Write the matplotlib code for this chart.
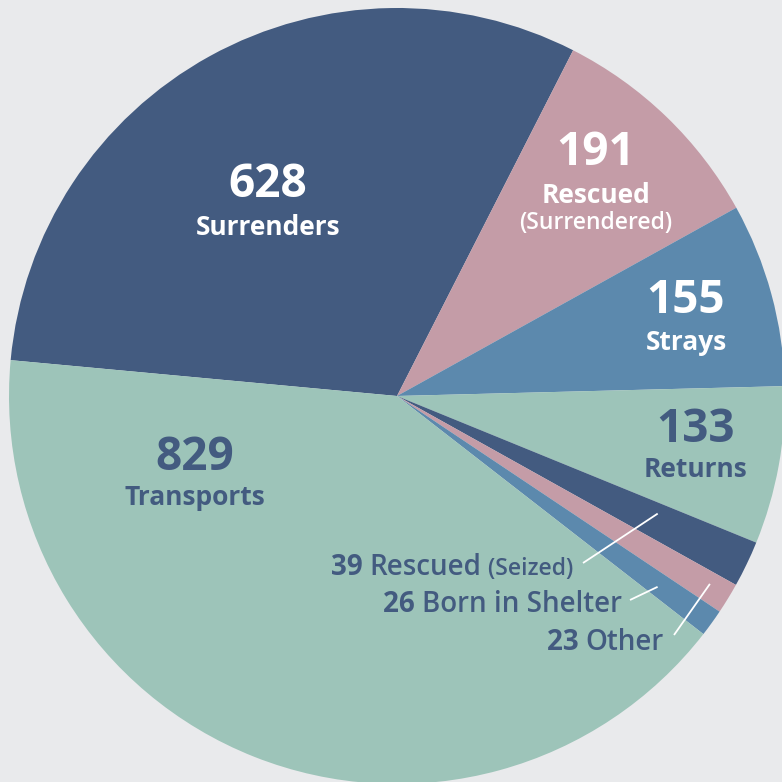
import numpy as np
import matplotlib
matplotlib.use("Agg")
import matplotlib.pyplot as plt

# intake numbers, clockwise from the top-left wedge
counts = [628, 191, 155, 133, 39, 26, 23, 829]
names = ["Surrenders", "Rescued", "Strays", "Returns",
         "Rescued", "Born in Shelter", "Other", "Transports"]
subnames = ["", "(Surrendered)", "", "", "(Seized)", "", "", ""]

dark = "#435b80"
pink = "#c49ca7"
blue = "#5c89ad"
teal = "#9dc4b9"
bg = "#e9eaec"
colors = [dark, pink, blue, teal, dark, pink, blue, teal]

W = 782
plt.rcParams['font.family'] = ['Open Sans', 'DejaVu Sans']

fig = plt.figure(figsize=(7.82, 7.82), dpi=100, facecolor=bg)
ax = fig.add_axes([0, 0, 1, 1])
ax.set_facecolor(bg)

cx, cy, R = 397, W - 396, 388
wedges, _ = ax.pie(counts, colors=colors, startangle=174.7, counterclock=False,
                   center=(cx, cy), radius=R, wedgeprops=dict(linewidth=0))
ax.set_xlim(0, W)
ax.set_ylim(0, W)
ax.set_aspect('equal')
ax.axis('off')


def Y(y):
    return W - y


# big labels: number on top, name under it (baselines in image pixels)
big = [(0, 268, 197, 235, 'white'),
       (1, 596, 165, 203, 'white'),
       (2, 686, 313, 350, 'white'),
       (3, 696, 442, 477, dark),
       (7, 195, 470, 505, dark)]
for i, x, yn, yl, c in big:
    ax.text(x, Y(yn), str(counts[i]), ha='center', va='baseline', fontsize=33,
            fontweight='bold', color=c)
    ax.text(x, Y(yl), names[i], ha='center', va='baseline', fontsize=19,
            fontweight='bold', color=c)
    if subnames[i]:
        ax.text(x, Y(yl + 26), subnames[i], ha='center', va='baseline', fontsize=16.5,
                fontweight='semibold', color=c)

# small labels, right aligned, built from the right end
fig.canvas.draw()
rend = fig.canvas.get_renderer()
small = [(4, 573, 575), (5, 622, 612), (6, 664, 650)]
for i, xr, y in small:
    parts = [(str(counts[i]) + " ", 'bold', 20), (names[i], 'semibold', 20)]
    if subnames[i]:
        parts.append((" " + subnames[i], 'semibold', 16.5))
    x = xr
    for s, w, fs in reversed(parts):
        t = ax.text(x, Y(y), s, ha='right', va='baseline', fontsize=fs,
                    fontweight=w, color=dark)
        x -= t.get_window_extent(renderer=rend).width


# leader lines: from label to a point inside a thin wedge
def wedge_pt(k, frac, r):
    w = wedges[k]
    a = np.radians(w.theta1 + frac * (w.theta2 - w.theta1))
    return cx + r * np.cos(a), cy + r * np.sin(a)


leaders = [((583, 563), 4, 0.7, 286),
           ((630, 600), 6, 0.4, 323),
           ((674, 635), 5, 0.6, 365)]
for (sx, sy), k, f, r in leaders:
    ex, ey = wedge_pt(k, f, r)
    ax.plot([sx, ex], [Y(sy), ey], color='white', lw=1.3, solid_capstyle='butt')

fig.savefig("out.png", dpi=100, facecolor=bg)
